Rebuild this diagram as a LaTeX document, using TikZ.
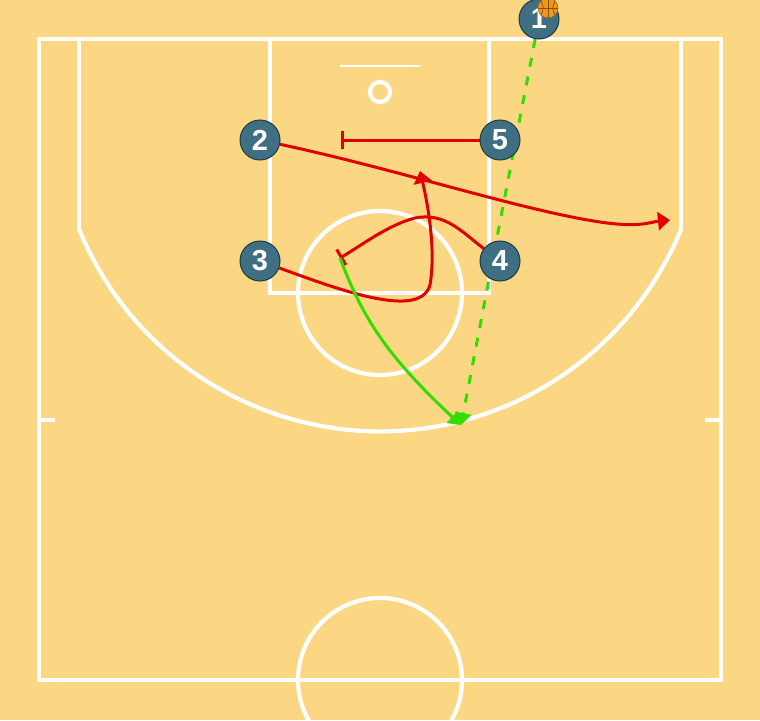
\documentclass[tikz,border=0pt]{standalone}
\usepackage{fontspec}
\setmainfont{Liberation Sans}
\usetikzlibrary{arrows.meta}
\pgfdeclarelayer{bg}
\pgfsetlayers{bg,main}
\definecolor{courtbg}{HTML}{FBD784}
\definecolor{plfill}{HTML}{3E6F82}
\definecolor{plline}{HTML}{1F3A45}
\definecolor{cutred}{HTML}{E00000}
\definecolor{passgreen}{HTML}{33DD00}
\definecolor{ballor}{HTML}{F0961E}
\tikzset{
  court/.style={draw=white, line width=4.2pt},
  player/.style={circle, fill=plfill, draw=plline, line width=1pt, minimum size=40pt, inner sep=0pt, text=white, font=\bfseries\fontsize{29}{29}\selectfont},
  cut/.style={draw=cutred, line width=3pt, -{Triangle[length=12pt,width=18pt]}},
  screen/.style={draw=cutred, line width=3pt, -{Bar[width=18pt,line width=3pt]}},
  pass/.style={draw=passgreen, line width=3pt, dash pattern=on 9pt off 10pt, -{Triangle[length=12pt,width=16pt]}},
  dribble/.style={draw=passgreen, line width=3pt, -{Triangle[length=12pt,width=16pt]}},
}
\begin{document}
\begin{tikzpicture}[x=1pt,y=-1pt]
\useasboundingbox (0,0) rectangle (760,720);
\clip (0,0) rectangle (760,720);
% players
\node[player] (p1) at (539,19) {1};
\node[player] (p2) at (260,140) {2};
\node[player] (p5) at (500,140) {5};
\node[player] (p3) at (260,261) {3};
\node[player] (p4) at (500,261) {4};
% ball
\node[circle, fill=ballor, draw=ballor!70!black, line width=0.6pt, minimum size=20pt, inner sep=0pt] (ball) at (548,8) {};
\draw[ballor!55!black, line width=0.7pt] (ball.north) -- (ball.south) (ball.west) -- (ball.east);
\draw[ballor!55!black, line width=0.7pt] (ball.north west) to[bend left=35] (ball.south west);
\draw[ballor!55!black, line width=0.7pt] (ball.north east) to[bend right=35] (ball.south east);
\begin{pgfonlayer}{bg}
\fill[courtbg] (0,0) rectangle (760,720);
% court
\draw[court] (39,39) rectangle (721,680);
\draw[court] (270,39) -- (270,293) -- (489,293) -- (489,39);
\draw[court] (380,293) circle (82);
\draw[court] (380,680) circle (82);
\draw[court] (79,39) -- (79,229);
\draw[court] (681,39) -- (681,229);
\draw[court] (79,229) arc[start angle=157.8, end angle=22.2, radius=325.2];
\draw[court] (39,420) -- (55,420);
\draw[court] (705,420) -- (721,420);
\draw[draw=white, line width=2pt] (340,66) -- (420,66);
\draw[court] (380,92) circle (10);
% coordinates
\coordinate (s5) at (341,140);
\coordinate (e2) at (670,220);
\coordinate (e3) at (420,171);
\coordinate (s4) at (340,258);
\coordinate (eg) at (461,425);
% screens and cuts
\draw[screen] (p5) -- (s5);
\draw[cut] (p2) .. controls (400,170) and (520,210) .. (600,222) .. controls (640,228) and (650,222) .. (e2);
\draw[cut] (p3) .. controls (340,290) and (420,320) .. (430,285) .. controls (436,250) and (428,205) .. (e3);
\draw[screen] (p4) .. controls (462,232) and (445,212) .. (415,218) .. controls (388,225) and (362,245) .. (s4);
% passes
\draw[pass] (p1) -- (eg);
\draw[dribble] (s4) .. controls (360,310) and (380,350) .. (eg);
\end{pgfonlayer}
\end{tikzpicture}
\end{document}
